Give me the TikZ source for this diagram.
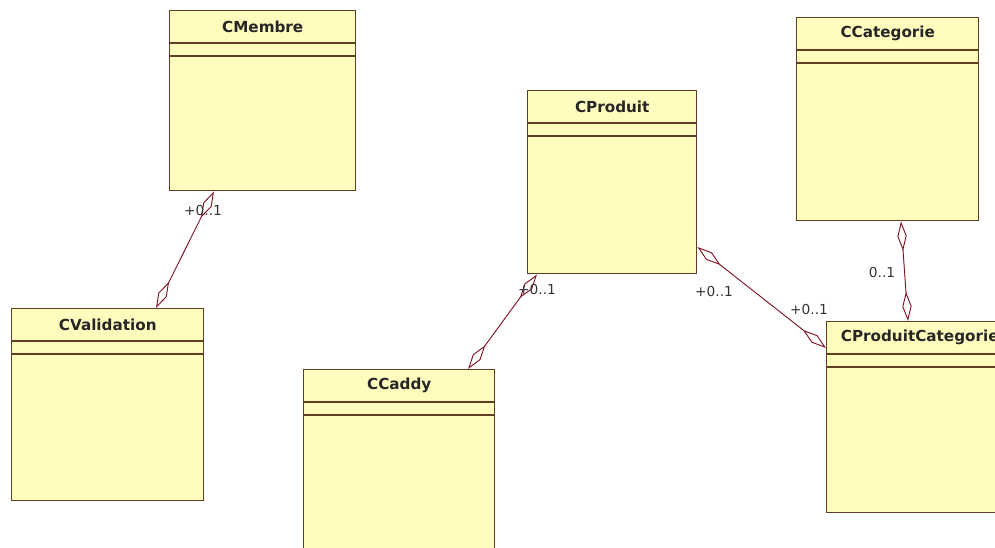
\documentclass[tikz,border=0pt]{standalone}
\usepackage{fontspec}
\setmainfont{DejaVu Sans}
\usepackage{tikz}
\usetikzlibrary{arrows.meta,positioning,calc}
\definecolor{clsFill}{RGB}{255,252,190}
\definecolor{clsEdge}{RGB}{100,62,36}
\definecolor{assocRed}{RGB}{128,20,36}
\tikzset{
  classbox/.style={draw=clsEdge, fill=clsFill, line width=1.1pt, anchor=north west, inner sep=0pt},
  classtitle/.style={font=\fontsize{11.4}{13}\selectfont\bfseries, text=black!85, inner sep=0pt},
  classline/.style={draw=clsEdge, line width=1.1pt},
  assoc/.style={draw=assocRed, line width=0.7pt,
    {Diamond[open,length=22pt,width=7pt]}-{Diamond[open,length=22pt,width=7pt]}},
  mult/.style={font=\fontsize{10.3}{12}\selectfont, text=black!80, inner sep=0pt},
}
% class box: name, x, y, width, height, title
\newcommand{\umlclass}[6]{%
  \node[classbox, minimum width={#4*0.75pt}, minimum height={#5*0.75pt}] (#1) at (#2,#3) {};
  \node[classtitle] (#1-title) at ($(#1.north)+(0,16.5)$) {#6};
  \draw[classline] ($(#1.north west)+(0,33)$) -- ($(#1.north east)+(0,33)$);
  \draw[classline] ($(#1.north west)+(0,46)$) -- ($(#1.north east)+(0,46)$);
}

\begin{document}
\begin{tikzpicture}[x=0.75pt, y=-0.75pt]
    \fill[white] (0,0) rectangle (995,547);
    \useasboundingbox (0,0) rectangle (995,547);
    \clip (0,0) rectangle (995,547);
    % classes
    \umlclass{membre}{169}{10}{186}{180}{CMembre}
    \umlclass{validation}{11}{308}{192}{192}{CValidation}
    \umlclass{caddy}{303}{369}{191}{200}{CCaddy}
    \umlclass{produit}{527}{90}{169}{183}{CProduit}
    \umlclass{categorie}{796}{17}{182}{203}{CCategorie}
    \umlclass{prodcat}{826}{321}{186}{191}{CProduitCategorie}
    % associations
    \draw[assoc] ($(membre.south west)+(45,0)$) -- ($(validation.north west)+(145,0)$);
    \draw[assoc] ($(produit.south west)+(10,0)$) -- ($(caddy.north west)+(165,0)$);
    \draw[assoc] ($(produit.north east)+(0,157)$) -- ($(prodcat.north west)+(0,27)$);
    \draw[assoc] ($(categorie.south west)+(105,0)$) -- ($(prodcat.north west)+(82,0)$);
    % multiplicities
    \node[mult] (m-membre) at (203,210) {+0..1};
    \node[mult] (m-produit) at (537,289) {+0..1};
    \node[mult] (m-prodright) at (714,291) {+0..1};
    \node[mult] (m-prodcat) at (809,309) {+0..1};
    \node[mult] (m-categorie) at (882,272) {0..1};
\end{tikzpicture}
\end{document}
